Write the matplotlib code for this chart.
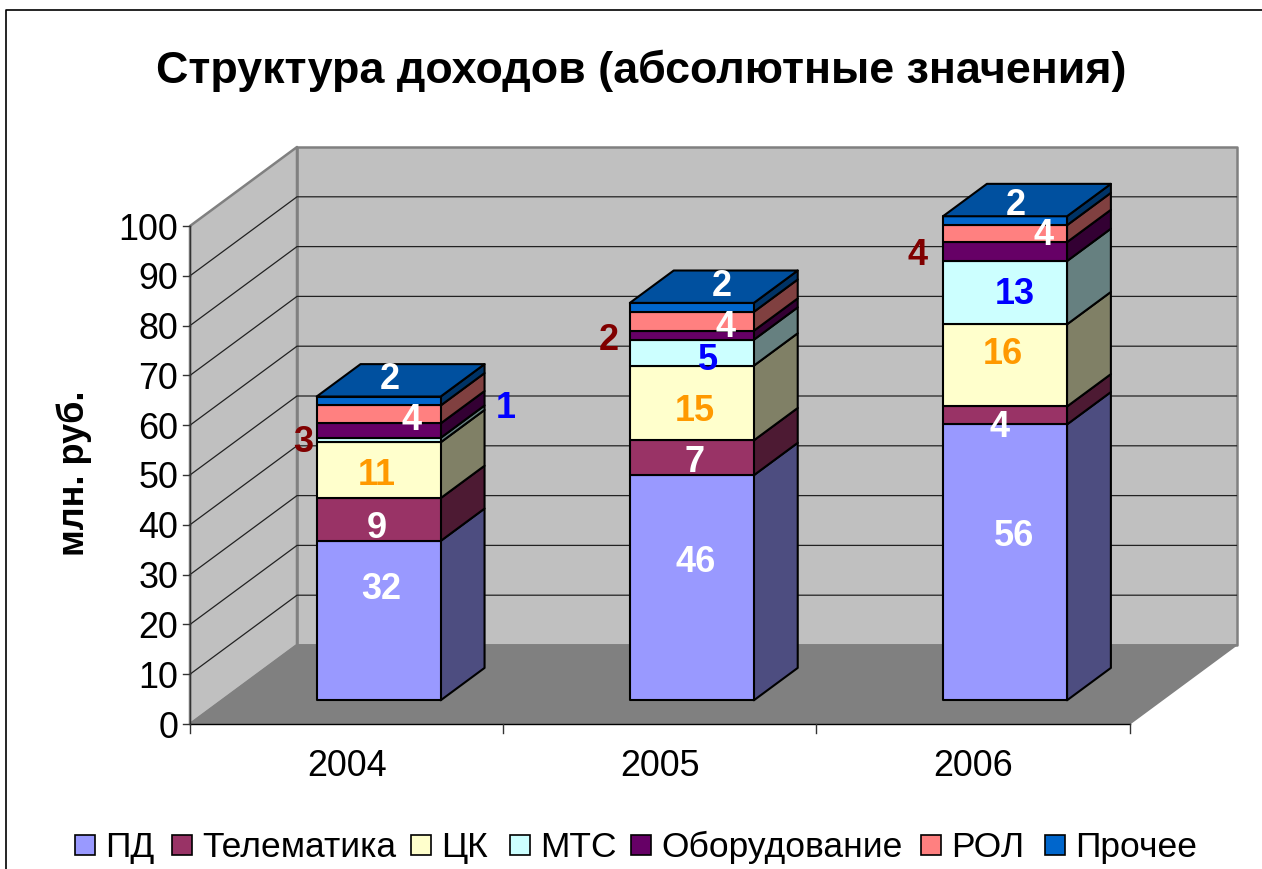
import matplotlib
matplotlib.use("Agg")
import matplotlib.pyplot as plt
from matplotlib.patches import Polygon

years = ["2004", "2005", "2006"]
names = ["ПД", "Телематика", "ЦК", "МТС", "Оборудование", "РОЛ", "Прочее"]
pd_vals = [32, 45.2, 55.4]
telematics = [8.6, 7, 3.6]
ck = [11.2, 15, 16.5]
mts = [0.9, 5.2, 12.7]
equipment = [2.9, 1.8, 3.8]
rol = [3.6, 3.8, 3.4]
other = [1.8, 1.8, 1.8]
series = [pd_vals, telematics, ck, mts, equipment, rol, other]

# labels as printed on the chart
labels = [
    ["32", "46", "56"],
    ["9", "7", "4"],
    ["11", "15", "16"],
    ["1", "5", "13"],
    ["3", "2", "4"],
    ["4", "4", "4"],
    ["2", "2", "2"],
]
front_cols = ["#9999ff", "#993366", "#ffffcc", "#ccffff", "#660066", "#ff8080", "#0066cc"]
side_cols = ["#4d4d80", "#4d1a33", "#808066", "#668080", "#330033", "#804040", "#003366"]
top_cols = ["#9999ff", "#993366", "#ffffcc", "#ccffff", "#660066", "#ff8080", "#00509f"]
label_cols = ["white", "white", "#ff9900", "#0000ff", "#800000", "white", "white"]
# label shifts in pixels from the middle of the front face (right, up)
shifts = [
    [(3, 35), (4, 29), (9, 30)],
    [(-2, -5), (3, -1), (-5, -8)],
    [(-2, -1), (3, -5), (-2, 15)],
    [(127, 36), (16, -4), (10, 2)],
    [(-75, -8), (-83, -1), (-87, 0)],
    [(33, -2), (34, -2), (39, 2)],
    [(11, 26), (30, 25), (11, 19)],
]

W, H = 1262, 869
fig = plt.figure(figsize=(W / 100, H / 100), dpi=100)
fig.patch.set_facecolor("white")
plt.rcParams["font.family"] = ["Liberation Sans", "DejaVu Sans"]

# axes covers the front plane of the chart box
left, right, y0, y100 = 190, 1129.5, 724, 226
ax = fig.add_axes([left / W, 1 - y0 / H, (right - left) / W, (y0 - y100) / H])
ax.set_xlim(0, 3)
ax.set_ylim(0, 100)
ax.axis("off")

px_x = 3 / (right - left)
px_y = 100 / (y0 - y100)
depth_x = 107 * px_x
depth_y = 79 * px_y
text_drop = 4 * px_y  # matplotlib centres digits a bit high


def pt(x, y, d):
    return (x + d * depth_x, y + d * depth_y)


def poly(points, face, edge="black", lw=1.5, z=1):
    ax.add_patch(Polygon(points, closed=True, facecolor=face, edgecolor=edge,
                         linewidth=lw, zorder=z, clip_on=False, joinstyle="round"))


# back wall, side wall, floor
wall = "#c0c0c0"
grey = "#808080"
poly([pt(0, 0, 1), pt(3, 0, 1), pt(3, 100, 1), pt(0, 100, 1)], wall, grey, 1.8)
poly([pt(0, 0, 0), pt(0, 0, 1), pt(0, 100, 1), pt(0, 100, 0)], wall, grey, 1.8)
poly([pt(0, 0, 0), pt(3, 0, 0), pt(3, 0, 1), pt(0, 0, 1)], grey, grey, 1.2)

for v in range(10, 100, 10):
    xs, ys = zip(pt(0, v, 0), pt(0, v, 1), pt(3, v, 1))
    ax.plot(xs, ys, color="#222222", lw=0.9, zorder=2, clip_on=False)

# axis lines and ticks
ax.plot([0, 0], [0, 100], color="#333333", lw=1.0, zorder=2, clip_on=False)
ax.plot([0, 3], [0, 0], color="black", lw=1.0, zorder=2, clip_on=False)
for v in range(0, 101, 10):
    ax.plot([-7 * px_x, 0], [v, v], color="#333333", lw=1.0, clip_on=False)
    ax.text(-12 * px_x, v - text_drop, str(v), ha="right", va="center", fontsize=25.8, color="black")
for i in range(4):
    ax.plot([i, i], [0, -9 * px_y], color="#333333", lw=1.0, clip_on=False)
for i, year in enumerate(years):
    ax.text(i + 0.5, -39 * px_y - text_drop, year, ha="center", va="center", fontsize=25.8)

# stacked boxes
bar_w = 124 * px_x
d_front, d_back = 0.30, 0.71
for i in range(len(years)):
    base = 0
    xc = i + 0.5
    x0, x1 = xc - bar_w / 2, xc + bar_w / 2
    for s, vals in enumerate(series):
        top = base + vals[i]
        z = 3 + s * 0.1
        poly([pt(x1, base, d_front), pt(x1, base, d_back), pt(x1, top, d_back), pt(x1, top, d_front)],
             side_cols[s], z=z)
        poly([pt(x0, base, d_front), pt(x1, base, d_front), pt(x1, top, d_front), pt(x0, top, d_front)],
             front_cols[s], z=z)
        if s == len(series) - 1:
            poly([pt(x0, top, d_front), pt(x1, top, d_front), pt(x1, top, d_back), pt(x0, top, d_back)],
                 top_cols[s], z=z)
        lx, ly = pt(xc, base + vals[i] / 2, d_front)
        nx, ny = shifts[s][i]
        ax.text(lx + nx * px_x, ly + ny * px_y - text_drop, labels[s][i], ha="center", va="center",
                fontsize=26, fontweight="bold", color=label_cols[s], zorder=6)
        base = top

fig.text(641 / W, 1 - 71 / H, "Структура доходов (абсолютные значения)", ha="center", va="center",
         fontsize=32.3, fontweight="bold")
fig.text(74 / W, 1 - 473 / H, "млн. руб.", rotation=90, ha="center", va="center",
         fontsize=26, fontweight="bold")

# legend drawn by hand to keep the Excel look
legend_x = [75, 172, 411, 510, 631, 921, 1045]
for name, col, lx in zip(names, front_cols, legend_x):
    fig.add_artist(plt.Rectangle((lx / W, 1 - 855 / H), 20 / W, 20 / H, facecolor=col,
                                 edgecolor="black", linewidth=1.2, transform=fig.transFigure))
    fig.text((lx + 30) / W, 1 - 857 / H, name, ha="left", va="baseline", fontsize=25.5)

# chart frame, only the left and top edges are in the picture
fig.add_artist(plt.Line2D([5.5 / W, 5.5 / W, 1], [0, 1 - 9.5 / H, 1 - 9.5 / H],
                          color="black", lw=1.2, transform=fig.transFigure))

fig.savefig("out.png", dpi=100)
